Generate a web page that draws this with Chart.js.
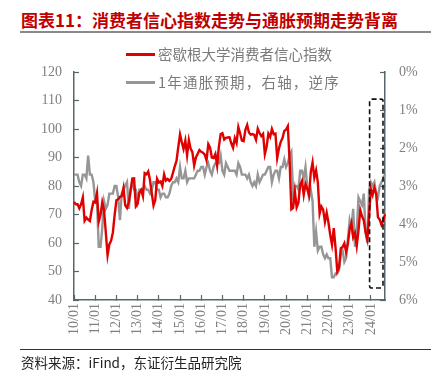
<!DOCTYPE html>
<html>
<head>
<meta charset="utf-8">
<script src="https://cdn.jsdelivr.net/npm/chart.js@4.4.1/dist/chart.umd.min.js"></script>
<style>
  body { margin: 0; background: #fff; }
  #wrap { position: relative; width: 431px; height: 376px; overflow: hidden; background: #fff; }
  #c { position: absolute; left: 0; top: 0; }
  .title { position: absolute; left: 21px; top: 10px; font: bold 17px "Noto Sans CJK SC"; line-height: 19px; color: #c00000; white-space: nowrap; }
  .rule1 { position: absolute; left: 20px; top: 31px; width: 411px; height: 2px; background: #8a8a8a; }
  .rule2 { position: absolute; left: 20px; top: 349px; width: 411px; height: 1px; background: #333; }
  .source { position: absolute; left: 21px; top: 353px; font: 13.5px "Noto Sans CJK SC"; line-height: 18px; color: #222; white-space: nowrap; }
  .lg { position: absolute; left: 126px; height: 20px; white-space: nowrap; }
  .lg i { position: absolute; left: 0; top: 9px; width: 29px; height: 2.5px; }
  .lg span { position: absolute; left: 32px; top: 0; font: 14.5px "Noto Sans CJK SC"; line-height: 20px; color: #7a7a7a; }
</style>
</head>
<body>
<div id="wrap">
  <div class="title">图表11：消费者信心指数走势与通胀预期走势背离</div>
  <div class="rule1"></div>
  <canvas id="c" width="431" height="376"></canvas>
  <div id="legend"></div>
  <div class="rule2"></div>
  <div class="source">资料来源：iFind，东证衍生品研究院</div>
</div>
<script>
// 年份、月份 -> 类别标签 (10/01 ... 24/09)
const years = ['10','11','12','13','14','15','16','17','18','19','20','21','22','23','24'];
const months = ['01','02','03','04','05','06','07','08','09','10','11','12'];
const lastLabel = '24/09';

// 密歇根大学消费者信心指数
const sentiment = [
  74.4,73.6,73.6,72.2,73.6,76.0,67.8,68.9,68.2,67.7,71.6,74.5,
  74.2,77.5,67.5,69.8,74.3,71.5,63.7,55.7,59.5,60.8,63.7,69.9,
  75.0,75.3,76.2,76.4,79.3,73.2,72.3,74.3,78.3,82.6,82.7,72.9,
  73.8,77.6,78.6,76.4,84.5,84.1,85.1,82.1,77.5,73.2,75.1,82.5,
  81.2,81.6,80.0,84.1,81.9,82.5,81.8,82.5,84.6,86.9,88.8,93.6,
  98.1,95.4,93.0,95.9,90.7,96.1,93.1,91.9,87.2,90.0,91.3,92.6,
  92.0,91.7,91.0,89.0,94.7,93.5,90.0,89.8,91.2,87.2,93.8,98.2,
  98.5,96.3,96.9,97.0,97.1,95.0,93.4,96.8,95.1,100.7,98.5,95.9,
  95.7,99.7,101.4,98.8,98.0,98.2,97.9,96.2,100.1,98.6,97.5,98.3,
  91.2,93.8,98.4,97.2,100.0,98.2,98.4,89.8,93.2,95.5,96.8,99.3,
  99.8,101.0,89.1,71.8,72.3,78.1,72.5,74.1,80.4,81.8,76.9,80.7,
  79.0,76.8,84.9,88.3,82.9,85.5,81.2,70.3,72.8,71.7,67.4,70.6,
  67.2,62.8,59.4,65.2,58.4,50.0,51.5,58.2,58.6,59.9,56.8,59.7,
  64.9,67.0,62.0,63.5,59.0,64.4,71.6,69.4,67.9,63.8,61.3,69.7,
  79.0,76.9,79.4,77.2,69.1,68.2,66.4,67.9,70.1
];

// 1年通胀预期 (%), 右轴逆序
const inflation = [
  2.7,2.7,2.7,2.9,3.0,2.7,2.7,2.8,2.2,2.7,2.7,2.9,
  3.4,3.4,4.6,4.6,4.1,3.4,3.6,3.5,3.2,3.2,3.2,3.0,
  3.0,3.3,3.9,3.2,3.1,3.0,2.9,3.6,3.1,2.9,3.1,3.1,
  3.4,3.1,3.1,3.1,3.0,3.1,3.1,3.2,3.1,2.9,2.9,3.1,
  3.1,3.3,3.2,3.2,3.3,3.3,3.2,3.0,2.9,2.9,2.8,2.9,
  2.5,2.8,2.8,2.6,2.9,2.8,2.8,2.8,2.8,2.7,2.6,2.6,
  2.5,2.5,2.7,2.5,2.4,2.6,2.7,2.5,2.4,2.4,2.4,2.2,
  2.6,2.7,2.4,2.5,2.6,2.6,2.6,2.6,2.7,2.4,2.5,2.7,
  2.7,2.7,2.8,2.7,2.9,3.0,2.9,3.0,2.7,2.9,2.8,2.7,
  2.7,2.6,2.5,2.5,2.9,2.7,2.6,2.6,2.8,2.5,2.5,2.3,
  2.5,2.4,2.2,2.1,3.2,3.0,3.0,3.1,2.6,2.6,2.8,2.5,
  3.0,3.3,3.1,3.4,4.6,4.2,4.7,4.6,4.6,4.8,4.9,4.8,
  4.9,4.9,5.4,5.4,5.3,5.3,5.2,4.8,4.7,5.0,4.9,4.4,
  3.9,4.1,3.6,4.6,4.2,3.3,3.4,3.5,3.2,4.2,4.5,3.1,
  2.9,3.0,2.9,3.2,3.3,3.0,2.9,2.8,2.7
];

const seriesNames = ['密歇根大学消费者信心指数', '1年通胀预期，右轴，逆序'];
const seriesColors = ['#e00000', '#969696'];

// 虚线框范围 (最近一段)
const boxFrom = '23/12';

const labels = [];
years.forEach(y => months.forEach(m => {
  const s = y + '/' + m;
  if (labels.length && labels[labels.length - 1] === lastLabel) return;
  labels.push(s);
}));

const axisColor = '#56666a';
const tickFont = { family: 'Liberation Serif', size: 14 };

// 图例 (HTML)
const legendEl = document.getElementById('legend');
seriesNames.forEach((name, i) => {
  const d = document.createElement('div');
  d.className = 'lg';
  d.style.top = (44 + i * 28) + 'px';
  d.innerHTML = '<i style="background:' + seriesColors[i] + '"></i><span' +
    (i === 1 ? ' style="letter-spacing:1.2px"' : '') + '>' + name + '</span>';
  legendEl.appendChild(d);
});

// 虚线框
const dashBox = {
  id: 'dashBox',
  afterDatasetsDraw(chart) {
    const { ctx, chartArea, scales } = chart;
    const x0 = scales.x.getPixelForValue(labels.indexOf(boxFrom)) + 0.5;
    const x1 = chartArea.right - 2;
    const y0 = scales.y.getPixelForValue(110.5);
    const y1 = scales.y.getPixelForValue(44.2);
    ctx.save();
    ctx.strokeStyle = '#111';
    ctx.lineWidth = 1.6;
    ctx.setLineDash([5, 3]);
    ctx.beginPath();
    ctx.roundRect(x0, y0, x1 - x0, y1 - y0, 2);
    ctx.stroke();
    ctx.restore();
  }
};

new Chart(document.getElementById('c'), {
  type: 'line',
  data: {
    labels: labels,
    datasets: [
      {
        label: seriesNames[0],
        data: sentiment,
        borderColor: seriesColors[0],
        borderWidth: 2.4,
        pointRadius: 0,
        tension: 0,
        yAxisID: 'y',
        order: 1
      },
      {
        label: seriesNames[1],
        data: inflation,
        borderColor: seriesColors[1],
        borderWidth: 2.4,
        pointRadius: 0,
        tension: 0,
        yAxisID: 'y1',
        order: 2
      }
    ]
  },
  options: {
    responsive: false,
    animation: false,
    layout: { padding: { top: 72, left: 0, right: 0, bottom: 0 } },
    plugins: { legend: { display: false }, tooltip: { enabled: false } },
    scales: {
      x: {
        offset: false,
        border: { display: true, color: axisColor, width: 1.5 },
        grid: {
          drawOnChartArea: false,
          drawTicks: true,
          tickLength: -5,
          tickWidth: 1.2,
          tickColor: (c) => (labels[c.index] || '').endsWith('/01') ? axisColor : 'rgba(0,0,0,0)'
        },
        ticks: {
          autoSkip: false,
          minRotation: 90,
          maxRotation: 90,
          padding: 8,
          color: '#808080',
          font: tickFont,
          callback: function (v, i) { return labels[i].endsWith('/01') ? labels[i] : ''; }
        },
        afterFit(s) { s.height = 76; }
      },
      y: {
        position: 'left',
        min: 40, max: 120,
        border: { display: true, color: axisColor, width: 1.5 },
        grid: { drawOnChartArea: false, drawTicks: true, tickLength: -5, tickColor: axisColor, tickWidth: 1.2 },
        ticks: { stepSize: 10, padding: 17, color: '#808080', font: tickFont },
        afterFit(s) { s.width = 74; }
      },
      y1: {
        position: 'right',
        reverse: true,
        min: 0, max: 6,
        border: { display: true, color: axisColor, width: 1.5 },
        grid: { drawOnChartArea: false, drawTicks: true, tickLength: -5, tickColor: axisColor, tickWidth: 1.2 },
        ticks: { stepSize: 1, padding: 19, color: '#808080', font: tickFont, callback: (v) => v + '%' },
        afterFit(s) { s.width = 46; }
      }
    }
  },
  plugins: [dashBox]
});
</script>
</body>
</html>
